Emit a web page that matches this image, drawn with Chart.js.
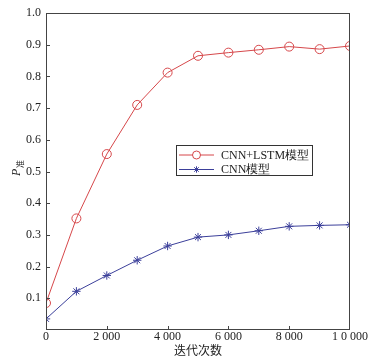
<!DOCTYPE html>
<html><head><meta charset="utf-8">
<script src="https://cdn.jsdelivr.net/npm/chart.js@4"></script>
<style>html,body{margin:0;padding:0;background:#fff}#wrap{width:386px;height:358px}</style>
</head><body><div id="wrap"><canvas id="c" width="386" height="358"></canvas></div>
<script>
const iterations = [0,1000,2000,3000,4000,5000,6000,7000,8000,9000,10000];
const cnnLstm = [0.085,0.352,0.555,0.71,0.812,0.865,0.875,0.884,0.894,0.886,0.896];
const cnn = [0.035,0.122,0.172,0.22,0.265,0.293,0.300,0.313,0.327,0.330,0.332];
const seriesNames = ['CNN+LSTM模型','CNN模型'];
const xTickLabels = {0:'0',2000:'2 000',4000:'4 000',6000:'6 000',8000:'8 000',10000:'1 0 000'};
const xTitle = '迭代次数';

const RED = '#d6474a', BLUE = '#3b3f9a', AX = '#444';
const FONT = '"Liberation Serif","DejaVu Serif",serif';

const deco = {
  id:'deco',
  afterDraw(ch){
    const c = ch.ctx, a = ch.chartArea, xs = ch.scales.x, ys = ch.scales.y;
    c.save();
    c.strokeStyle = AX; c.lineWidth = 1;
    c.strokeRect(a.left+0.5, a.top+0.5, a.right-a.left-1, a.bottom-a.top-1);
    c.beginPath();
    for (let v=2000; v<10000; v+=2000){ const px=Math.round(xs.getPixelForValue(v))+0.5; c.moveTo(px,a.bottom); c.lineTo(px,a.bottom-4); }
    for (let v=1; v<10; v++){ const py=Math.round(ys.getPixelForValue(v/10))+0.5; c.moveTo(a.left,py); c.lineTo(a.left+4,py); }
    c.stroke();
    c.translate(16, 170); c.rotate(-Math.PI/2);
    c.fillStyle = '#222'; c.textBaseline='alphabetic';
    c.font = 'italic 12px '+FONT; c.fillText('P', -6, 4);
    c.font = '8px "Noto Sans CJK SC",sans-serif'; c.fillText('准', 2, 7);
    c.restore();
    c.save();
    const lx=176, ly=145, lw=136, lh=30;
    c.fillStyle='#fff'; c.fillRect(lx,ly,lw,lh);
    c.strokeStyle='#333'; c.lineWidth=1; c.strokeRect(lx+0.5,ly+0.5,lw,lh);
    ch.data.datasets.forEach((ds,i)=>{
      const yy = ly+10+i*14.5;
      c.strokeStyle = ds.borderColor; c.lineWidth=1;
      c.beginPath(); c.moveTo(lx+3,yy); c.lineTo(lx+38,yy); c.stroke();
      Chart.helpers.drawPoint(c,{pointStyle:ds.pointStyle,radius:i===0?4:3.2,borderWidth:1},lx+20.5,yy);
      c.fillStyle='#222'; c.font='12px '+FONT; c.textBaseline='middle';
      c.fillText(ds.label, lx+45, yy+0.5);
    });
    c.restore();
  }
};

new Chart(document.getElementById('c'), {
  type:'line',
  data:{
    datasets:[
      {label:seriesNames[0], data:iterations.map((x,i)=>({x, y:cnnLstm[i]})), borderColor:RED, backgroundColor:'transparent', borderWidth:1, pointStyle:'circle', pointRadius:4.5, pointBorderWidth:1, pointBorderColor:RED, pointBackgroundColor:'transparent', tension:0},
      {label:seriesNames[1], data:iterations.map((x,i)=>({x, y:cnn[i]})), borderColor:BLUE, backgroundColor:'transparent', borderWidth:1, pointStyle:'star', pointRadius:4.2, pointBorderWidth:1, pointBorderColor:BLUE, pointBackgroundColor:BLUE, tension:0}
    ]
  },
  options:{
    responsive:false, animation:false,
    layout:{padding:{top:13, right:36, left:0, bottom:0}},
    plugins:{legend:{display:false}, tooltip:{enabled:false}},
    scales:{
      x:{type:'linear', min:0, max:10000,
        afterFit(s){ s.height = 28; },
        border:{display:false}, grid:{display:false, drawTicks:false},
        ticks:{stepSize:2000, padding:0, color:'#222', font:{family:FONT, size:12}, maxRotation:0, autoSkip:false,
          callback:v=>xTickLabels[v]},
        title:{display:true, text:xTitle, color:'#222', padding:{top:0,bottom:0}, font:{family:'"Noto Sans CJK SC",serif', size:12}}
      },
      y:{min:0, max:1,
        afterFit(s){ s.width = 46; },
        border:{display:false}, grid:{display:false, drawTicks:false},
        ticks:{stepSize:0.1, padding:5, color:'#222', font:{family:FONT, size:12},
          callback:v=>{ const r=Math.round(v*10)/10; return r===0?'':r.toFixed(1); }}
      }
    }
  },
  plugins:[deco]
});
</script></body></html>
